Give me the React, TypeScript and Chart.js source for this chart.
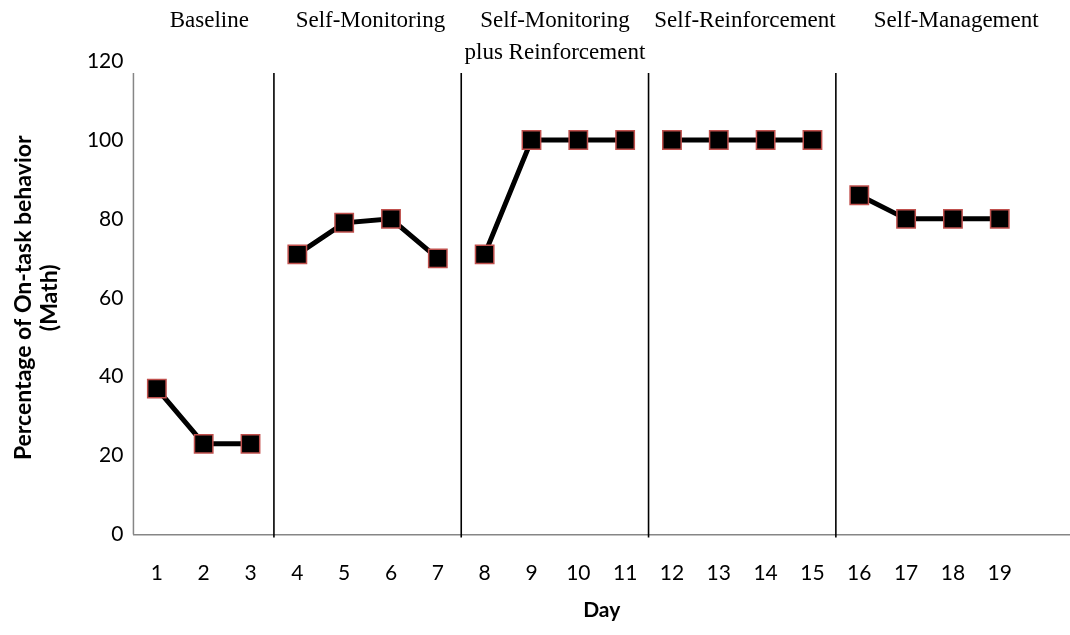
import React, { useEffect, useRef } from "react";
import { Chart, registerables } from "chart.js";

Chart.register(...registerables);

const days = [1, 2, 3, 4, 5, 6, 7, 8, 9, 10, 11, 12, 13, 14, 15, 16, 17, 18, 19];
const onTask = [37, 23, 23, 71, 79, 80, 70, 71, 100, 100, 100, 100, 100, 100, 100, 86, 80, 80, 80];
const phaseBreaks = [3.5, 7.5, 11.5, 15.5];
const phaseLabels = [
  ["Baseline"],
  ["Self-Monitoring"],
  ["Self-Monitoring", "plus Reinforcement"],
  ["Self-Reinforcement"],
  ["Self-Management"],
];
const phaseLabelPos = [2.12, 5.56, 9.5, 13.56, 18.07];
const yTicks = [0, 20, 40, 60, 80, 100, 120];

const phasePlugin = {
  id: "phases",
  beforeDatasetsDraw(chart: any) {
    const { ctx, chartArea } = chart;
    ctx.save();
    ctx.strokeStyle = "#868686";
    ctx.lineWidth = 1.5;
    ctx.beginPath();
    ctx.moveTo(chartArea.left, chartArea.top + 12);
    ctx.lineTo(chartArea.left, chartArea.bottom);
    ctx.stroke();
    ctx.restore();
  },
  afterDatasetsDraw(chart: any) {
    const { ctx, chartArea, scales } = chart;
    const x = scales.x;
    ctx.save();
    ctx.strokeStyle = "#000000";
    ctx.lineWidth = 1.6;
    phaseBreaks.forEach((b) => {
      const px = x.getPixelForValue(b);
      ctx.beginPath();
      ctx.moveTo(px, chartArea.top + 12);
      ctx.lineTo(px, chartArea.bottom + 3);
      ctx.stroke();
    });
    ctx.fillStyle = "#000000";
    ctx.font = "23px 'Liberation Serif', 'Times New Roman', serif";
    ctx.textAlign = "center";
    ctx.textBaseline = "middle";
    phaseLabels.forEach((lines, i) => {
      const px = x.getPixelForValue(phaseLabelPos[i]);
      lines.forEach((t, j) => {
        ctx.fillText(t, px, 21 + j * 32);
      });
    });
    ctx.restore();
  },
};

// one dataset per phase so the line breaks at each phase change
const bounds = [0, ...phaseBreaks, 99];
const phaseData = phaseLabels.map((_, p) =>
  days
    .map((d, i) => ({ x: d, y: onTask[i] }))
    .filter((pt) => pt.x > bounds[p] && pt.x < bounds[p + 1])
);

function App() {
  const ref = useRef<HTMLCanvasElement | null>(null);
  useEffect(() => {
    document.body.style.margin = "0";
    const chart = new Chart(ref.current as HTMLCanvasElement, {
      type: "line",
      data: {
        datasets: phaseData.map((data) => ({
          data,
          borderColor: "#000000",
          borderWidth: 5,
          backgroundColor: "#000000",
          pointStyle: "rect",
          pointRadius: 13,
          pointBorderColor: "#c0504d",
          pointBorderWidth: 1.5,
          pointBackgroundColor: "#000000",
          tension: 0,
        })),
      },
      options: {
        animation: false,
        responsive: false,
        maintainAspectRatio: false,
        layout: { autoPadding: false, padding: { top: 61, left: 10, right: 0, bottom: 12 } },
        plugins: { legend: { display: false }, tooltip: { enabled: false } },
        scales: {
          x: {
            type: "linear",
            min: 0.5,
            max: 20.5,
            afterBuildTicks: (axis: any) => {
              axis.ticks = days.map((v) => ({ value: v }));
            },
            grid: { display: false, drawTicks: false },
            border: { display: true, color: "#868686", width: 1.5 },
            ticks: {
              color: "#000000",
              padding: 26,
              autoSkip: false,
              maxRotation: 0,
              font: { family: "Lato", size: 21 },
            },
            title: {
              display: true,
              text: "Day",
              color: "#000000",
              font: { family: "Lato", size: 21, weight: "bold" },
              padding: { top: -14, bottom: 0 },
            },
          },
          y: {
            min: 0,
            max: 120,
            afterBuildTicks: (axis: any) => {
              axis.ticks = yTicks.map((v) => ({ value: v }));
            },
            grid: { display: false, drawTicks: false },
            border: { display: false },
            ticks: {
              color: "#000000",
              padding: 10,
              font: { family: "Lato", size: 21 },
            },
            title: {
              display: true,
              text: ["Percentage of On-task behavior", "(Math)"],
              color: "#000000",
              font: { family: "Lato", size: 23, weight: "bold", lineHeight: 1.15 },
              padding: { top: 0, bottom: 14 },
            },
          },
        },
      },
      plugins: [phasePlugin],
    });
    return () => chart.destroy();
  }, []);
  return (
    <div style={{ width: 1070, height: 635 }}>
      <canvas ref={ref} width={1070} height={635} style={{ display: "block" }} />
    </div>
  );
}

export default App;
